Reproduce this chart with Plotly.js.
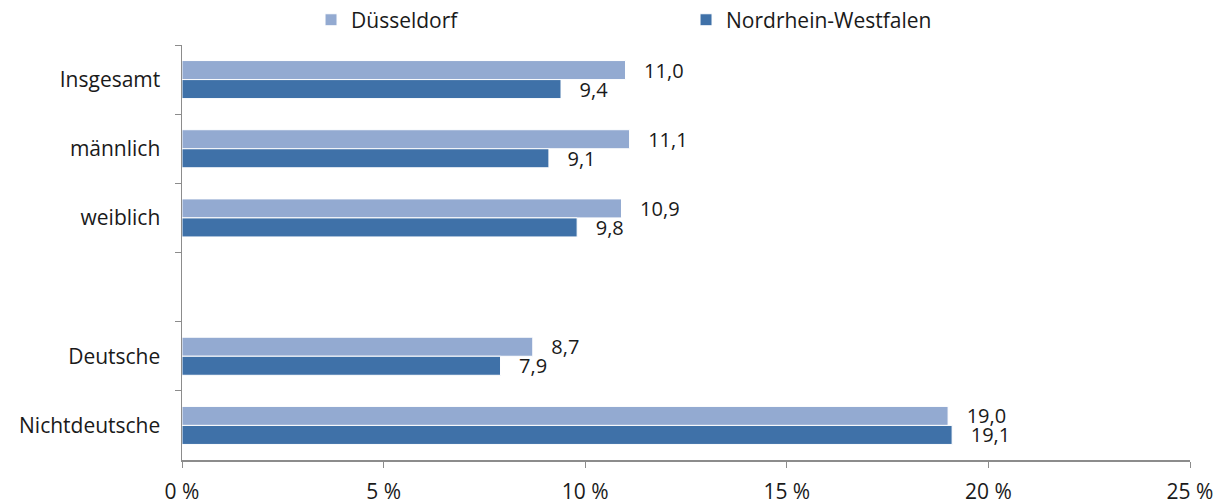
<!DOCTYPE html>
<html>
<head>
<meta charset="utf-8">
<script src="https://cdn.plot.ly/plotly-3.0.1.min.js"></script>
<style>
  html, body { margin: 0; padding: 0; background: #fff; }
  #chart { width: 1227px; height: 504px; }
</style>
</head>
<body>
<div id="chart"></div>
<script>
// categories top to bottom, the blank one is the gap in the chart
var categories = ["Insgesamt", "männlich", "weiblich", " ", "Deutsche", "Nichtdeutsche"];
var duesseldorf = [11.0, 11.1, 10.9, null, 8.7, 19.0];
var nrw = [9.4, 9.1, 9.8, null, 7.9, 19.1];
var xTicks = [0, 5, 10, 15, 20, 25];
var xTickText = xTicks.map(v => v + " %");

var fontFam = "'Open Sans', Lato, sans-serif";

var traceD = {
  name: "Düsseldorf",
  type: "bar",
  orientation: "h",
  y: categories,
  x: duesseldorf,
  marker: { color: "#93AAD1", line: { color: "#ffffff", width: 1 } },
  texttemplate: "\u00a0\u00a0\u00a0%{x:.1f}",
  textposition: "outside",
  constraintext: "none",
  textfont: { family: fontFam, size: 20, color: "#1a1a1a" },
  cliponaxis: false,
  hoverinfo: "x+name"
};

var traceN = {
  name: "Nordrhein-Westfalen",
  type: "bar",
  orientation: "h",
  y: categories,
  x: nrw,
  marker: { color: "#3F71A8", line: { color: "#ffffff", width: 1 } },
  texttemplate: "\u00a0\u00a0\u00a0%{x:.1f}",
  textposition: "outside",
  constraintext: "none",
  textfont: { family: fontFam, size: 20, color: "#1a1a1a" },
  cliponaxis: false,
  hoverinfo: "x+name"
};

var data = [traceD, traceN];

var layout = {
  width: 1227,
  height: 504,
  margin: { l: 182, r: 37, t: 45, b: 44, autoexpand: false },
  paper_bgcolor: "#ffffff",
  plot_bgcolor: "#ffffff",
  separators: ",.",
  font: { family: fontFam, size: 21, color: "#1a1a1a" },
  barmode: "group",
  bargap: 0.45,
  bargroupgap: 0,
  showlegend: true,
  legend: {
    orientation: "h",
    x: 0.128, xanchor: "left",
    y: 1.06, yanchor: "middle",
    entrywidth: 330,
    font: { family: fontFam, size: 21, color: "#1a1a1a" },
    itemclick: false
  },
  xaxis: {
    range: [0, 25],
    tickmode: "array",
    tickvals: xTicks,
    ticktext: xTickText,
    showgrid: false,
    zeroline: false,
    showline: true,
    linecolor: "#8c8c8c",
    linewidth: 1.5,
    ticks: "outside",
    ticklen: 6,
    tickcolor: "#8c8c8c",
    ticklabelstandoff: 6
  },
  yaxis: {
    type: "category",
    autorange: "reversed",
    showgrid: false,
    zeroline: false,
    showline: true,
    linecolor: "#8c8c8c",
    linewidth: 1.5,
    ticks: "outside",
    tickson: "boundaries",
    ticklen: 6,
    tickcolor: "#8c8c8c",
    ticklabelstandoff: 16
  }
};

Plotly.newPlot("chart", data, layout, { displayModeBar: false, staticPlot: true });
</script>
</body>
</html>
